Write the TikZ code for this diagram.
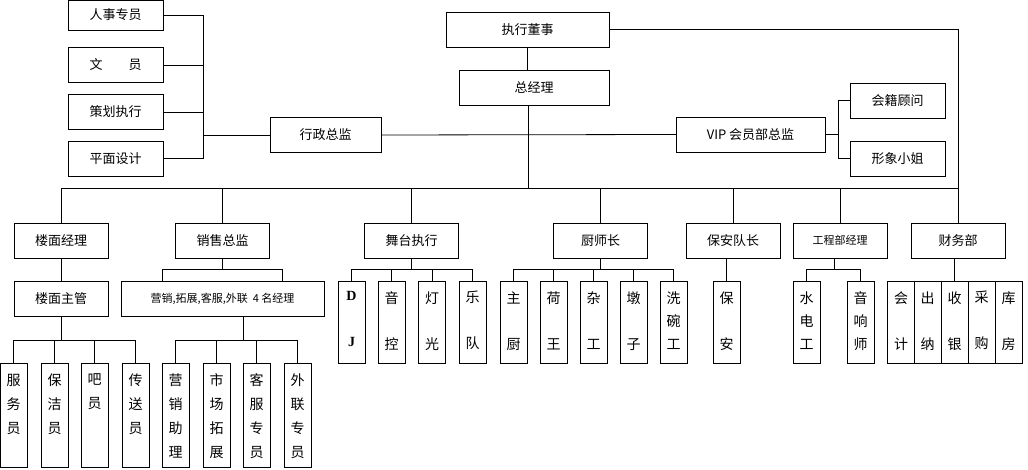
\documentclass[tikz,border=0pt]{standalone}
\usepackage{fontspec}
\setmainfont{Liberation Serif}
\newfontfamily\cjk{Noto Sans CJK SC}
\usetikzlibrary{positioning}

\begin{document}
\begin{tikzpicture}[
            x=1pt, y=-1pt,
            box/.style={rectangle, draw=black, inner sep=0pt, minimum height=35pt, font=\cjk\fontsize{13}{15}\selectfont},
            vbox/.style={rectangle, draw=black, inner sep=0pt, minimum width=27pt, minimum height=82pt},
            tbox/.style={vbox, minimum height=104pt},
            vtxt/.style={label={[anchor=north, label distance=-7pt, align=center, font=\cjk\fontsize{14}{#1}\selectfont]north:{\vchars}}},
            link/.style={draw=black, line width=0.8pt}
        ]
        \useasboundingbox (0,0) rectangle (1028,470);
        \newcommand{\vchars}{}
        \newcommand{\vnode}[5]{\renewcommand{\vchars}{#5}\node[#1, vtxt=#4] (#2) at #3 {};}

        % Top: administration
        \node[box, minimum width=95pt, minimum height=30pt] (rszy) at (115.5,15) {人事专员};
        \node[box, minimum width=95pt] (wy) at (115.5,65) {文\quad\quad 员};
        \node[box, minimum width=95pt] (chzx) at (115.5,112) {策划执行};
        \node[box, minimum width=95pt] (pmsj) at (115.5,158.5) {平面设计};
        \node[box, minimum width=111pt] (xzzj) at (325.5,135) {行政总监};
        \coordinate (xz_hub) at (203,135);

        % Top: management
        \node[box, minimum width=163pt] (zxds) at (527.5,29.5) {执行董事};
        \node[box, minimum width=150pt] (zjl) at (534,87.5) {总经理};
        \node[box, minimum width=149pt] (vip) at (750.5,134.5) {VIP 会员部总监};
        \node[box, minimum width=95pt] (hjgw) at (897.5,100.5) {会籍顾问};
        \node[box, minimum width=95pt] (xxxj) at (897.5,158.5) {形象小姐};
        \coordinate (vip_hub) at (838,134.5);
        \coordinate (bus) at (528,188);

        % Departments
        \node[box, minimum width=94pt] (lmjl) at (61,240.5) {楼面经理};
        \node[box, minimum width=94pt] (xszj) at (222.5,240.5) {销售总监};
        \node[box, minimum width=94pt] (wtzx) at (411.5,240.5) {舞台执行};
        \node[box, minimum width=94pt] (csz) at (600.5,240.5) {厨师长};
        \node[box, minimum width=94pt] (badz) at (733,240.5) {保安队长};
        \node[box, minimum width=94pt, font=\cjk\fontsize{11}{13}\selectfont] (gcjl) at (840,240.5) {工程部经理};
        \node[box, minimum width=94pt] (cwb) at (958,240.5) {财务部};

        % Third level
        \node[box, minimum width=94pt] (lmzg) at (61,298.5) {楼面主管};
        \node[box, minimum width=203pt, font=\cjk\fontsize{11}{13}\selectfont] (yxjl) at (222.5,298.5) {营销,拓展,客服,外联\ \ 4 名经理};
        \vnode{vbox}{dj}{(351.5,322)}{46}{\rmfamily\bfseries D\\\rmfamily\bfseries J}
        \vnode{vbox}{yk}{(391.5,322)}{46}{音\\控}
        \vnode{vbox}{dg}{(432,322)}{46}{灯\\光}
        \vnode{vbox}{yd}{(472.5,322)}{46}{乐\\队}
        \vnode{vbox}{zc}{(513.5,322)}{46}{主\\厨}
        \vnode{vbox}{hw}{(553.5,322)}{46}{荷\\王}
        \vnode{vbox}{zg}{(593.5,322)}{46}{杂\\工}
        \vnode{vbox}{dz}{(633.5,322)}{46}{墩\\子}
        \vnode{vbox}{xwg}{(673.5,322)}{23}{洗\\碗\\工}
        \vnode{vbox}{ba}{(726.5,322)}{46}{保\\安}
        \vnode{vbox}{sdg}{(806.5,322)}{23}{水\\电\\工}
        \vnode{vbox}{yxs}{(860.5,322)}{23}{音\\响\\师}
        \vnode{vbox}{kj}{(901,322)}{46}{会\\计}
        \vnode{vbox}{cn}{(927.5,322)}{46}{出\\纳}
        \vnode{vbox}{sy}{(954.5,322)}{46}{收\\银}
        \vnode{vbox}{cg}{(981.5,322)}{46}{采\\购}
        \vnode{vbox}{kf}{(1008.5,322)}{46}{库\\房}

        % Fourth level
        \vnode{tbox}{fwy}{(13.5,415.5)}{24}{服\\务\\员}
        \vnode{tbox}{bjy}{(54.5,415.5)}{24}{保\\洁\\员}
        \vnode{tbox}{by}{(94.5,415.5)}{24}{吧\\员}
        \vnode{tbox}{csy}{(135.5,415.5)}{24}{传\\送\\员}
        \vnode{tbox}{yxzl}{(175.5,415.5)}{24}{营\\销\\助\\理}
        \vnode{tbox}{sctz}{(216.5,415.5)}{24}{市\\场\\拓\\展}
        \vnode{tbox}{kfzy}{(256.5,415.5)}{24}{客\\服\\专\\员}
        \vnode{tbox}{wlzy}{(297.5,415.5)}{24}{外\\联\\专\\员}

        % Administration links
        \foreach \n in {rszy, wy, chzx, pmsj}
            \draw[link] (\n.east) -| (xz_hub);
        \draw[link] (xz_hub) -- (xzzj.west);
        \draw[link] (xzzj.east) -- (vip.west);
        \draw[link] (vip.east) -- (vip_hub);
        \foreach \n in {hjgw, xxxj}
            \draw[link] (vip_hub) |- (\n.west);

        % Management links
        \draw[link] (zxds.south) -- (zxds.south |- zjl.north);
        \draw[link] (zjl.south -| bus) -- (bus);
        \draw[link] (zxds.east) -| (cwb.north);
        \foreach \n in {lmjl, xszj, wtzx, csz, badz, gcjl}
            \draw[link] (bus) -| (\n.north);
        \draw[link] (bus) -- (bus -| cwb.north);

        % Department links
        \draw[link] (lmjl.south) -- (lmzg.north);
        \draw[link] (badz.south -| ba.north) -- (ba.north);
        \draw[link] (cwb.south -| sy.north) -- (sy.north);
        \coordinate (xs_b) at (222.5,269);
        \draw[link] (xszj.south) -- (xs_b);
        \draw[link] (xs_b) -| ([xshift=-60pt]yxjl.north);
        \draw[link] (xs_b) -| ([xshift=60pt]yxjl.north);
        \coordinate (wt_b) at (411.5,269);
        \draw[link] (wtzx.south) -- (wt_b);
        \foreach \n in {dj, yk, dg, yd}
            \draw[link] (wt_b) -| (\n.north);
        \coordinate (cs_b) at (600.5,269);
        \draw[link] (csz.south) -- (cs_b);
        \foreach \n in {zc, hw, zg, dz, xwg}
            \draw[link] (cs_b) -| (\n.north);
        \coordinate (gc_b) at (834,269);
        \draw[link] (gcjl.south -| gc_b) -- (gc_b);
        \foreach \n in {sdg, yxs}
            \draw[link] (gc_b) -| (\n.north);

        % Fourth level links
        \coordinate (lm_b) at (61,340);
        \draw[link] (lmzg.south) -- (lm_b);
        \foreach \n in {fwy, bjy, by, csy}
            \draw[link] (lm_b) -| (\n.north);
        \coordinate (yx_b) at (243,340);
        \draw[link] (yxjl.south -| yx_b) -- (yx_b);
        \foreach \n in {yxzl, sctz, kfzy, wlzy}
            \draw[link] (yx_b) -| (\n.north);
    \end{tikzpicture}
\end{document}
